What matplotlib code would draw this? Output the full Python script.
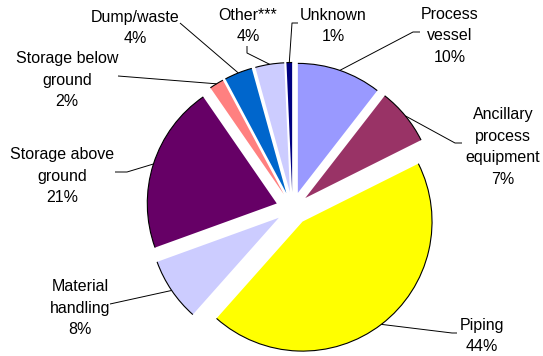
import numpy as np
import matplotlib.pyplot as plt
from matplotlib.patches import Arc

# chart data
categories = ["Process\nvessel", "Ancillary\nprocess\nequipment", "Piping",
              "Material\nhandling", "Storage above\nground", "Storage below\nground",
              "Dump/waste", "Other***", "Unknown"]
pct_labels = [10, 7, 44, 8, 21, 2, 4, 4, 1]
# slice sizes (labels are rounded)
values = [10.5, 7.1, 43.9, 7.9, 20.9, 1.8, 3.5, 3.6, 0.7]
colors = ["#9999FF", "#993366", "#FFFF00", "#CCCCFF", "#660066",
          "#FF8080", "#0066CC", "#CCCCFF", "#000080"]

W, H = 543, 356
# label layout in pixel coords (text centre, then leader elbow points toward the label)
label_pos = [(450, 36), (503, 147), (482, 336), (80, 308), (62, 176),
             (67, 80), (135, 28), (248, 26), (333, 26)]
label_elbows = [
    [(413, 32), (420, 32)],
    [(455, 143), (462, 143)],
    [(452, 333), (457, 333)],
    [(110, 304)],
    [(127, 172), (115, 172)],
    [(118, 76)],
    [(180, 23)],
    [(247, 53), (247, 46)],
    [(292, 23), (298, 23)],
]

plt.rcParams['font.family'] = ['Liberation Sans', 'DejaVu Sans']

fig = plt.figure(figsize=(W / 100, H / 100), dpi=100)
ax = fig.add_axes([0, 0, 1, 1])

cx, cy, r = 292.5, H - 208.5, 129.5
# explode is in data units here (pixels)
wedges, _ = ax.pie(values, colors=colors, startangle=90, counterclock=False,
                   explode=[16.5] * len(values), center=(cx, cy), radius=r,
                   frame=True, wedgeprops=dict(linewidth=0, edgecolor='none'))

for w, elbows in zip(wedges, label_elbows):
    # black outline along the outer arc only
    ax.add_patch(Arc(w.center, 2 * w.r, 2 * w.r, theta1=w.theta1, theta2=w.theta2,
                     lw=0.8, color='black'))
    mid = np.deg2rad((w.theta1 + w.theta2) / 2)
    px, py = w.center[0] + w.r * np.cos(mid), w.center[1] + w.r * np.sin(mid)
    xs = [px] + [p[0] for p in elbows]
    ys = [py] + [H - p[1] for p in elbows]
    ax.plot(xs, ys, color='black', lw=0.7, solid_capstyle='butt')

for lab, s, (tx, ty) in zip(categories, pct_labels, label_pos):
    ax.text(tx, H - ty, f"{lab}\n{s}%", ha='center', va='center',
            multialignment='center', fontsize=11.5, linespacing=1.55, color='black')

ax.set_xlim(0, W)
ax.set_ylim(0, H)
ax.set_aspect('equal')
ax.axis('off')

fig.savefig("out.png", dpi=100, facecolor='white')
